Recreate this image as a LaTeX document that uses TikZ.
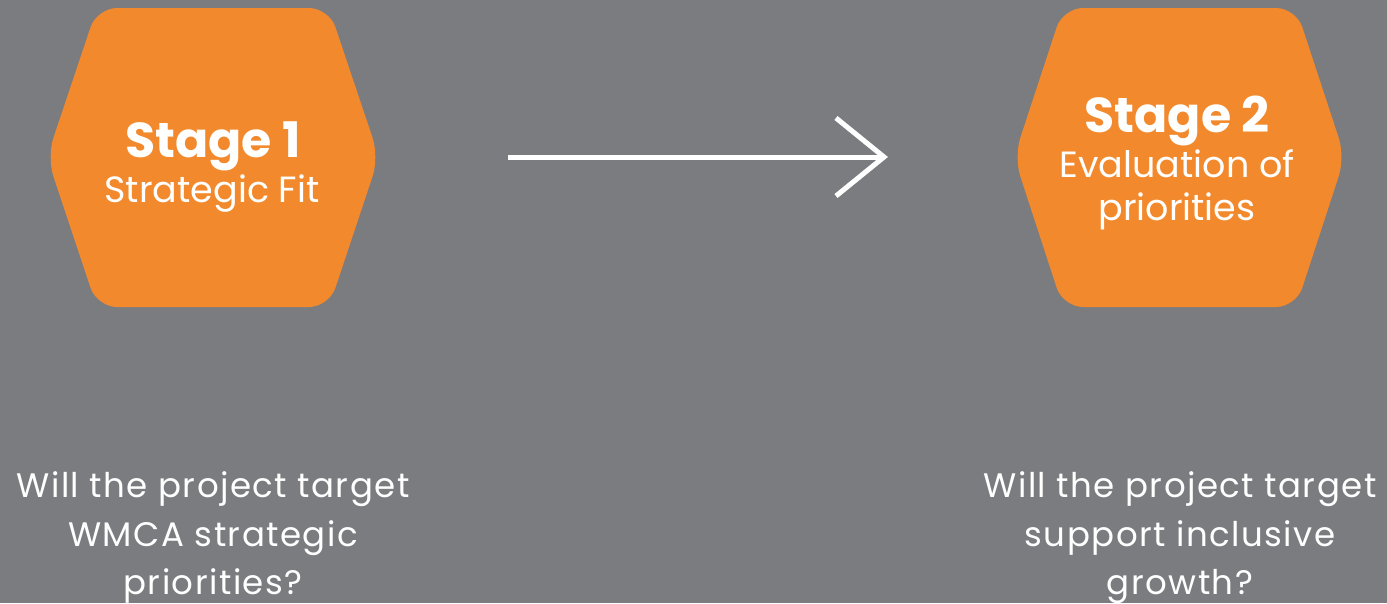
\documentclass[tikz,border=0pt]{standalone}
\usepackage{fontspec}
\setmainfont{Poppins}
\definecolor{bg}{RGB}{123,124,128}
\definecolor{hexorange}{RGB}{242,137,44}
\begin{document}
\begin{tikzpicture}[x=1pt,y=-1pt,
  hexbox/.style={fill=hexorange,rounded corners=20pt},
  titletext/.style={text=white,font=\fontsize{49}{56}\selectfont\bfseries,inner sep=0pt,anchor=base},
  subtext/.style={text=white,font=\fontsize{36.5}{42}\selectfont,inner sep=0pt,anchor=base},
  qtext/.style={text=white,font=\fontsize{34}{40}\selectfont\addfontfeatures{LetterSpace=4.3},inner sep=0pt,anchor=base},
  arrowline/.style={draw=white,line width=5pt}]
\fill[bg] (0,0) rectangle (1387,603);
\useasboundingbox (0,0) rectangle (1387,603);
% hexagon 1
\fill[hexbox] (97,8) -- (329,8) -- (379,157) -- (329,307) -- (97,307) -- (47,157) -- cycle;
% hexagon 2
\fill[hexbox] (1063,8) -- (1296,8) -- (1345,157) -- (1296,307) -- (1063,307) -- (1014,157) -- cycle;
\node[titletext] (s1) at (213,157) {Stage 1};
\node[subtext] (s1b) at (212,202) {Strategic Fit};
\node[titletext] (s2) at (1177,132) {Stage 2};
\node[subtext] (s2b) at (1177,177) {Evaluation of};
\node[subtext] (s2c) at (1177,220) {priorities};
\node[qtext] (q1a) at (213,497) {Will the project target};
\node[qtext] (q1b) at (213,546) {WMCA strategic};
\node[qtext] (q1c) at (213,594) {priorities?};
\node[qtext] (q2a) at (1180,497) {Will the project target};
\node[qtext] (q2b) at (1180,546) {support inclusive};
\node[qtext] (q2c) at (1180,594) {growth?};
% arrow
\coordinate (astart) at (508,157);
\coordinate (atip) at (884,157);
\coordinate (aup) at (836,118);
\coordinate (adown) at (836,196);
\draw[arrowline] (astart) -- (atip);
\draw[arrowline,miter limit=10] (aup) -- (atip) -- (adown);
\end{tikzpicture}
\end{document}
